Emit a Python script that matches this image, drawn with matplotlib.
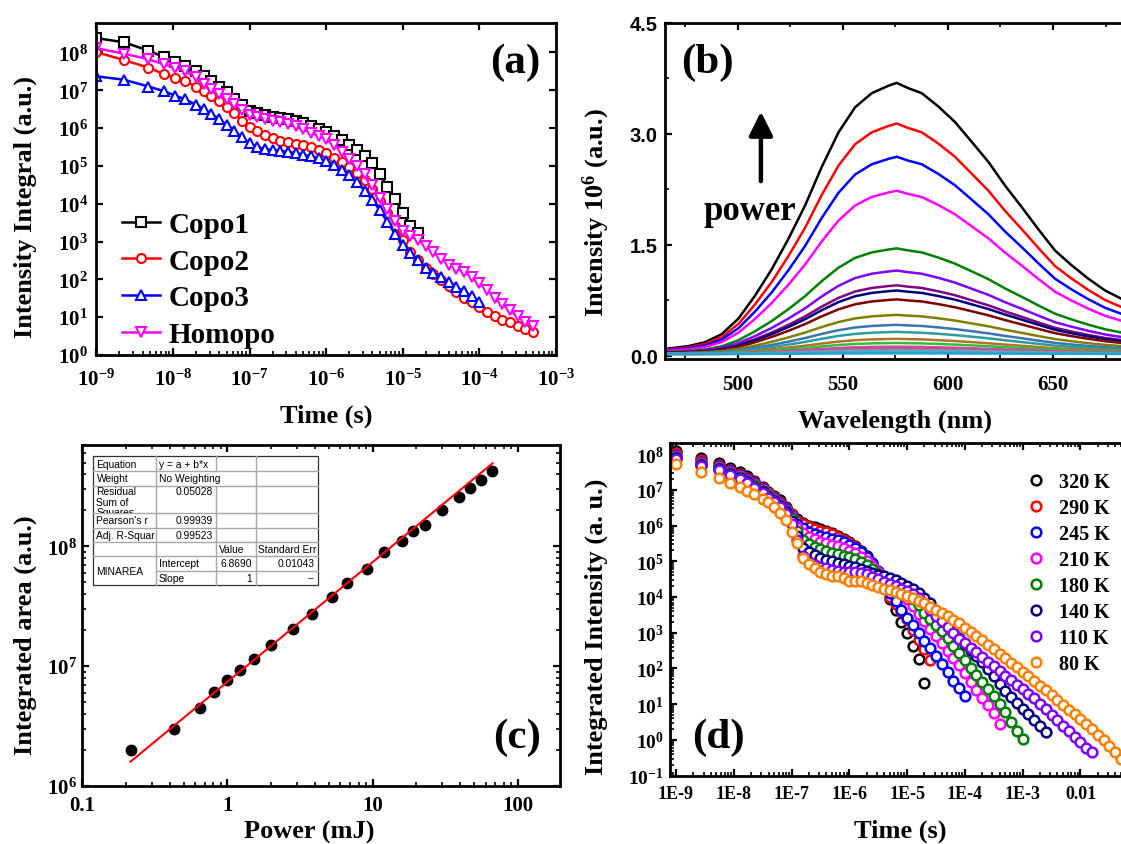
import numpy as np
import matplotlib
matplotlib.use('Agg')
import matplotlib.pyplot as plt
from matplotlib.ticker import FixedLocator, NullFormatter, NullLocator, LogLocator, FuncFormatter
from matplotlib.transforms import Bbox, TransformedBbox
from matplotlib.lines import Line2D
from matplotlib.patches import Rectangle

# ======================= DATA =======================
# ---- panel (a): log10(time / s) and log10(intensity integral)
a_log_time = [-9.0, -8.64, -8.32, -8.12, -7.97, -7.84,
              -7.7, -7.6, -7.5, -7.4, -7.3, -7.2, -7.1, -7.0,
              -6.9, -6.8, -6.7, -6.6, -6.5, -6.4, -6.3, -6.2, -6.1, -6.0,
              -5.9, -5.8, -5.7, -5.6, -5.5, -5.4, -5.3, -5.2, -5.1, -5.0,
              -4.9, -4.8, -4.7, -4.6, -4.5, -4.4, -4.3, -4.2, -4.1, -4.0,
              -3.9, -3.8, -3.7, -3.6, -3.5, -3.4, -3.3]
copo1_log = [8.38, 8.27, 8.05, 7.88, 7.76, 7.65,
             7.50, 7.38, 7.25, 7.10, 6.95, 6.78, 6.60, 6.45,
             6.39, 6.34, 6.30, 6.27, 6.23, 6.19, 6.13, 6.06, 5.98, 5.90,
             5.80, 5.68, 5.56, 5.42, 5.26, 5.08, 4.78, 4.45, 4.12, 3.75,
             3.42, 3.22]
copo2_log = [8.01, 7.80, 7.60, 7.43, 7.32, 7.24,
             7.10, 6.98, 6.85, 6.72, 6.55, 6.40, 6.20, 6.03,
             5.92, 5.83, 5.74, 5.66, 5.62, 5.59, 5.56, 5.50, 5.43, 5.35,
             5.22, 5.10, 4.97, 4.82, 4.62, 4.38, 4.08, 3.76, 3.42, 3.05,
             2.72, 2.50, 2.30, 2.14, 1.98, 1.82, 1.66, 1.52, 1.40, 1.26,
             1.15, 1.04, 0.93, 0.86, 0.78, 0.70, 0.62]
copo3_log = [7.37, 7.28, 7.10, 6.98, 6.86, 6.76,
             6.62, 6.51, 6.38, 6.24, 6.08, 5.93, 5.76, 5.60,
             5.50, 5.45, 5.42, 5.40, 5.37, 5.34, 5.30, 5.25, 5.20, 5.12,
             5.02, 4.90, 4.75, 4.57, 4.35, 4.10, 3.83, 3.52, 3.20, 2.92,
             2.70, 2.50, 2.30, 2.16, 2.05, 1.92, 1.80, 1.68, 1.55, 1.40]
homopo_log = [8.11, 7.97, 7.82, 7.69, 7.59, 7.50,
              7.34, 7.18, 7.04, 6.90, 6.76, 6.63, 6.48, 6.36,
              6.30, 6.25, 6.20, 6.16, 6.11, 6.05, 5.97, 5.88, 5.79, 5.70,
              5.56, 5.38, 5.19, 5.00, 4.78, 4.50, 4.16, 3.86, 3.55, 3.28,
              3.15, 3.04, 2.88, 2.72, 2.55, 2.38, 2.28, 2.20, 2.05, 1.90,
              1.72, 1.52, 1.34, 1.18, 1.02, 0.88, 0.78]
a_labels = ['Copo1', 'Copo2', 'Copo3', 'Homopo']

# ---- panel (b): emission spectra (top curve) and peak heights
b_wavelength = [465.5, 476.6, 484.5, 492.5, 500.4, 508.3, 516.3, 524.2, 532.1, 540.0,
                548.0, 555.9, 563.8, 571.7, 575.7, 581.0, 587.6, 595.5, 603.4, 611.4,
                619.3, 627.2, 635.1, 643.0, 651.0, 658.9, 666.8, 674.8, 682.4, 690.0]
b_top_spectrum = [0.09, 0.127, 0.18, 0.29, 0.50, 0.81, 1.17, 1.58, 2.03, 2.55,
                  3.02, 3.36, 3.55, 3.65, 3.69, 3.62, 3.55, 3.37, 3.16, 2.89,
                  2.62, 2.30, 2.01, 1.71, 1.42, 1.22, 1.04, 0.88, 0.77, 0.67]
b_baseline = 0.02
b_peak_heights = [3.69, 3.14, 2.69, 2.23, 1.45, 1.15, 0.95, 0.88, 0.76, 0.55,
                  0.415, 0.32, 0.226, 0.17, 0.12, 0.095, 0.075, 0.06, 0.045, 0.03]
b_colors = ['#000000', '#FF0000', '#0000FF', '#FF00FF', '#008000', '#8000FF', '#800080',
            '#000080', '#800000', '#808000', '#3A75B0', '#2A9D9D', '#B07030', '#30C030',
            '#E040A0', '#9060C0', '#C08060', '#60A0D0', '#40B0D0', '#20A0D8']

# ---- panel (c): integrated area vs power, linear fit of log-log data
c_power = [0.217, 0.43, 0.65, 0.81, 1.0, 1.22, 1.52, 2.0, 2.82, 3.8, 5.25,
           6.7, 9.1, 12.0, 15.8, 19.1, 22.9, 30.0, 39.0, 47.0, 56.0, 66.0]
c_area = [2.0e6, 3.0e6, 4.5e6, 6.1e6, 7.7e6, 9.3e6, 1.15e7, 1.49e7, 2.05e7, 2.74e7, 3.8e7,
          4.9e7, 6.5e7, 8.9e7, 1.1e8, 1.35e8, 1.5e8, 2.03e8, 2.6e8, 3.1e8, 3.6e8, 4.3e8]
c_fit_intercept = 6.869
c_fit_slope = 1.0
c_fit_power_range = [0.215, 67.0]
c_table_texts = [
    ('Equation', 0, 0), ('y = a + b*x', 1, 0),
    ('Weight', 0, 1), ('No Weighting', 1, 1),
    ('Residual\nSum of\nSquares', 0, 2), ('0.05028', 2, 2.1),
    ("Pearson's r", 0, 4), ('0.99939', 2, 4),
    ('Adj. R-Square', 0, 5), ('0.99523', 2, 5),
    ('Value', 3, 6), ('Standard Error', 4, 6),
    ('MINAREA', 0, 7.5), ('Intercept', 1, 7), ('6.8690', 5, 7), ('0.01043', 6, 7),
    ('Slope', 1, 8), ('1', 5, 8), ('--', 6, 8),
]

# ---- panel (d): log10(time / s) and log10(integrated intensity) per temperature
d_log_time = [-9.0, -8.56, -8.25, -8.07, -7.9, -7.77, -7.65,
              -7.5, -7.4, -7.3, -7.2, -7.1, -7.0,
              -6.9, -6.8, -6.7, -6.6, -6.5, -6.4, -6.3, -6.2, -6.1, -6.0,
              -5.9, -5.8, -5.7, -5.6, -5.5, -5.4, -5.3, -5.2, -5.1, -5.0,
              -4.9, -4.8, -4.7, -4.6, -4.5, -4.4, -4.3, -4.2, -4.1, -4.0,
              -3.9, -3.8, -3.7, -3.6, -3.5, -3.4, -3.3, -3.2, -3.1, -3.0,
              -2.9, -2.8, -2.7, -2.6, -2.5, -2.4, -2.3, -2.2, -2.1, -2.0,
              -1.9, -1.8, -1.7, -1.6, -1.5, -1.4, -1.3]
d_320K = [8.09, 7.88, 7.75, 7.60, 7.49, 7.38, 7.25,
          7.08, 6.95, 6.83, 6.70, 6.52, 6.33,
          6.18, 6.07, 6.00, 5.95, 5.90, 5.84, 5.78, 5.71, 5.63, 5.54,
          5.43, 5.30, 5.14, 4.95, 4.68, 4.30, 3.94, 3.63, 3.30, 2.98,
          2.64, 2.27, 1.59]
d_290K = [8.02, 7.82, 7.69, 7.55, 7.44, 7.33, 7.21,
          7.05, 6.92, 6.80, 6.67, 6.50, 6.31,
          6.14, 6.03, 5.96, 5.91, 5.86, 5.81, 5.75, 5.68, 5.60, 5.51,
          5.40, 5.27, 5.10, 4.90, 4.65, 4.33, 4.00, 3.80, 3.60, 3.38,
          3.09, 2.79, 2.55, 2.25]
d_245K = [7.98, 7.79, 7.66, 7.52, 7.41, 7.30, 7.18,
          7.02, 6.89, 6.77, 6.63, 6.46, 6.27,
          6.05, 5.92, 5.82, 5.76, 5.71, 5.67, 5.63, 5.59, 5.53, 5.46,
          5.37, 5.26, 5.12, 4.95, 4.74, 4.38, 4.10, 3.88, 3.63, 3.40,
          3.22, 3.00, 2.78, 2.56, 2.35, 2.12, 1.89, 1.66, 1.44, 1.22]
d_210K = [7.95, 7.76, 7.63, 7.49, 7.38, 7.27, 7.15,
          7.00, 6.87, 6.75, 6.61, 6.44, 6.24,
          5.95, 5.78, 5.68, 5.61, 5.55, 5.50, 5.46, 5.42, 5.37, 5.30,
          5.22, 5.12, 5.00, 4.86, 4.70, 4.52, 4.38, 4.25, 4.10, 3.95,
          3.75, 3.52, 3.32, 3.11, 2.91, 2.70, 2.50, 2.30, 2.10, 1.86,
          1.62, 1.40, 1.18, 0.97, 0.75, 0.45]
d_180K = [7.92, 7.73, 7.60, 7.46, 7.35, 7.24, 7.12,
          6.97, 6.84, 6.72, 6.58, 6.41, 6.20,
          5.85, 5.60, 5.49, 5.41, 5.34, 5.28, 5.23, 5.19, 5.16, 5.13,
          5.07, 4.99, 4.90, 4.78, 4.64, 4.50, 4.40, 4.30, 4.18, 4.05,
          3.95, 3.78, 3.56, 3.38, 3.22, 3.04, 2.84, 2.64, 2.44, 2.23,
          2.02, 1.82, 1.62, 1.42, 1.22, 1.00, 0.77, 0.50, 0.26, 0.02]
d_140K = [7.89, 7.70, 7.57, 7.43, 7.32, 7.21, 7.09,
          6.94, 6.81, 6.69, 6.55, 6.37, 6.12,
          5.70, 5.38, 5.26, 5.17, 5.10, 5.04, 5.00, 4.96, 4.92, 4.88,
          4.84, 4.79, 4.74, 4.68, 4.62, 4.58, 4.53, 4.47, 4.39, 4.31,
          4.22, 4.10, 3.98, 3.82, 3.62, 3.42, 3.22, 3.02, 2.84, 2.68,
          2.52, 2.36, 2.18, 1.98, 1.78, 1.56, 1.36, 1.19, 1.04, 0.88,
          0.72, 0.55, 0.39, 0.22]
d_110K = [7.86, 7.67, 7.54, 7.40, 7.29, 7.18, 7.06,
          6.91, 6.78, 6.66, 6.52, 6.32, 6.05,
          5.60, 5.15, 4.98, 4.90, 4.84, 4.80, 4.76, 4.73, 4.71, 4.70,
          4.69, 4.68, 4.63, 4.57, 4.50, 4.43, 4.37, 4.30, 4.23, 4.16,
          4.07, 3.97, 3.83, 3.65, 3.48, 3.32, 3.15, 2.98, 2.83, 2.70,
          2.57, 2.45, 2.32, 2.19, 2.06, 1.93, 1.80, 1.67, 1.54, 1.42,
          1.29, 1.16, 1.02, 0.87, 0.71, 0.55, 0.40, 0.24, 0.08, -0.07,
          -0.22, -0.35]
d_80K = [7.72, 7.49, 7.32, 7.19, 7.07, 6.97, 6.88,
         6.74, 6.65, 6.52, 6.35, 6.15, 5.82,
         5.50, 5.10, 4.92, 4.80, 4.70, 4.64, 4.60, 4.58, 4.52, 4.45,
         4.44, 4.44, 4.38, 4.33, 4.28, 4.23, 4.19, 4.14, 4.09, 4.03,
         3.96, 3.89, 3.82, 3.73, 3.65, 3.56, 3.46, 3.36, 3.26, 3.14,
         3.02, 2.91, 2.79, 2.67, 2.54, 2.41, 2.29, 2.16, 2.04, 1.91,
         1.78, 1.65, 1.52, 1.39, 1.25, 1.11, 0.98, 0.85, 0.72, 0.58,
         0.44, 0.30, 0.15, 0.00, -0.16, -0.33, -0.53]
d_labels = ['320 K', '290 K', '245 K', '210 K', '180 K', '140 K', '110 K', '80 K']
d_colors = ['#000000', '#FF0000', '#0000FF', '#FF00FF', '#008000', '#000080', '#8000FF', '#FF8000']
d_xtick_labels = ['1E-9', '1E-8', '1E-7', '1E-6', '1E-5', '1E-4', '1E-3', '0.01']

# ======================= STYLE / LAYOUT =======================
W, H = 1121, 845
plt.rcParams.update({
    'font.family': ['Liberation Serif', 'DejaVu Serif'],
    'font.weight': 'bold',
    'mathtext.fontset': 'custom',
    'mathtext.rm': 'Liberation Serif:bold',
    'mathtext.it': 'Liberation Serif:bold',
    'mathtext.bf': 'Liberation Serif:bold',
    'axes.linewidth': 2.0,
    'xtick.direction': 'in', 'ytick.direction': 'in',
    'xtick.major.width': 1.6, 'ytick.major.width': 1.6,
    'xtick.minor.width': 1.2, 'ytick.minor.width': 1.2,
    'xtick.major.size': 5, 'ytick.major.size': 5,
    'xtick.minor.size': 3, 'ytick.minor.size': 3,
})

fig = plt.figure(figsize=(W / 100, H / 100), dpi=100)


def rect(l, t, r, b):
    return [l / W, 1 - b / H, (r - l) / W, (b - t) / H]


def fx(x):
    return x / W


def fy(y):
    return 1 - y / H


def pow10(v, pos):
    return r'$10^{%d}$' % int(round(np.log10(v)))


def place_labels(ax, xtext, xc, yc, ytext, yxc, yyc, size=19):
    ax.set_xlabel(xtext, fontsize=size, fontweight='bold')
    ax.xaxis.set_label_coords(fx(xc), fy(yc), transform=fig.transFigure)
    ax.xaxis.label.set_va('center')
    ax.set_ylabel(ytext, fontsize=size, fontweight='bold')
    ax.yaxis.set_label_coords(fx(yxc), fy(yyc), transform=fig.transFigure)
    ax.yaxis.label.set_va('center')


def panel_tag(text, xc, yc):
    fig.text(fx(xc), fy(yc), text, fontsize=31, fontweight='bold', ha='center', va='center')


# ======================= (a) =======================
axa = fig.add_axes(rect(96.4, 24, 556, 356))
ta = 10.0 ** np.array(a_log_time)
for vals, col, mk, lab in zip([copo1_log, copo2_log, copo3_log, homopo_log],
                              ['black', 'red', 'blue', 'magenta'],
                              ['s', 'o', '^', 'v'], a_labels):
    n = len(vals)
    axa.plot(ta[:n], 10.0 ** np.array(vals), color=col, marker=mk, ms=6.5, mew=1.5,
             mfc='white', lw=1.8, label=lab)
axa.set_xscale('log')
axa.set_yscale('log')
axa.set_xlim(1e-9, 1e-3)
axa.set_ylim(1, 10 ** 8.78)
axa.xaxis.set_major_locator(FixedLocator([10.0 ** k for k in range(-9, -2)]))
axa.xaxis.set_major_formatter(FuncFormatter(pow10))
axa.xaxis.set_minor_locator(LogLocator(base=10, subs=np.arange(2, 10), numticks=20))
axa.xaxis.set_minor_formatter(NullFormatter())
axa.yaxis.set_major_locator(FixedLocator([10.0 ** k for k in range(0, 9)]))
axa.yaxis.set_major_formatter(FuncFormatter(pow10))
axa.yaxis.set_minor_locator(NullLocator())
axa.tick_params(axis='x', which='major', labelsize=15, pad=10, top=True)
axa.tick_params(axis='x', which='minor', top=False)
axa.tick_params(axis='y', labelsize=15, pad=6, right=True)
place_labels(axa, 'Time (s)', 326, 416, 'Intensity Integral (a.u.)', 25, 207)
axa.legend(loc='upper left', bbox_to_anchor=(fx(122), fy(212)), bbox_transform=fig.transFigure,
           frameon=False, fontsize=21, handlelength=1.3, handletextpad=0.3,
           labelspacing=0.33, borderpad=0, borderaxespad=0, numpoints=1)
panel_tag('(a)', 515, 63)

# ======================= (b) =======================
axb = fig.add_axes(rect(664.6, 24, 1131, 360))
wl = np.array(b_wavelength)
top = np.array(b_top_spectrum)
shape = (top - b_baseline) / (top.max() - b_baseline)
for pk, col in zip(b_peak_heights, b_colors):
    axb.plot(wl, b_baseline + (pk - b_baseline) * shape, color=col, lw=1.8)
axb.set_xlim(465.3, 687.1)
axb.set_ylim(-0.047, 4.5)
axb.set_xticks([500, 550, 600, 650], labels=['500', '550', '600', '650'], fontsize=15)
axb.set_xticks([475, 525, 575, 625, 675], minor=True)
axb.set_yticks([0, 1.5, 3.0, 4.5], labels=['0.0', '1.5', '3.0', '4.5'],
               fontsize=14.5, fontfamily='Liberation Sans', fontweight='bold')
axb.set_yticks([0.75, 2.25, 3.75], minor=True)
axb.tick_params(axis='x', which='both', top=True, pad=11)
axb.tick_params(axis='y', which='both', right=False, pad=5)
place_labels(axb, 'Wavelength (nm)', 895.5, 421, r'Intensity 10$^{6}$ (a.u.)', 596.5, 212.5)
axb.annotate('', xy=(511.1, 3.30), xytext=(511.1, 2.36),
             arrowprops=dict(arrowstyle='-|>,head_width=0.45,head_length=0.9', lw=3.2,
                             color='black', mutation_scale=16, shrinkA=0, shrinkB=0))
axb.text(505.7, 1.85, 'power', fontsize=25, fontweight='bold', ha='center', va='baseline')
panel_tag('(b)', 707.5, 63)

# ======================= (c) =======================
axc = fig.add_axes(rect(82.3, 445.7, 560, 786.7))
axc.plot(c_power, c_area, 'o', color='black', ms=7.5, zorder=2)
fx_line = np.array(c_fit_power_range)
axc.plot(fx_line, 10.0 ** (c_fit_intercept + c_fit_slope * np.log10(fx_line)), color='red',
         lw=1.5, zorder=3)
axc.set_xscale('log')
axc.set_yscale('log')
axc.set_xlim(0.1, 195)
axc.set_ylim(1e6, 10 ** 8.85)
axc.set_xticks([0.1, 1, 10, 100], labels=['0.1', '1', '10', '100'], fontsize=15)
axc.xaxis.set_minor_locator(LogLocator(base=10, subs=np.arange(2, 10), numticks=20))
axc.xaxis.set_minor_formatter(NullFormatter())
axc.yaxis.set_major_locator(FixedLocator([1e6, 1e7, 1e8]))
axc.yaxis.set_major_formatter(FuncFormatter(pow10))
axc.yaxis.set_minor_locator(LogLocator(base=10, subs=np.arange(2, 10), numticks=20))
axc.yaxis.set_minor_formatter(NullFormatter())
axc.tick_params(axis='x', which='both', top=True, labelsize=15, pad=7)
axc.tick_params(axis='y', which='both', right=True, labelsize=15, pad=4)
place_labels(axc, 'Power (mJ)', 309, 832, 'Integrated area (a.u.)', 25, 635)
panel_tag('(c)', 517, 738)

# fit-report table drawn on the figure
col_x = [93.3, 155.7, 215.7, 255.7, 317.7]
row_y = [457.3, 472.3, 486.7, 514.3, 529.0, 543.3, 557.3, 571.7, 586.0]
fig.add_artist(Rectangle((fx(col_x[0]), fy(row_y[-1])), fx(col_x[-1]) - fx(col_x[0]),
                         fy(row_y[0]) - fy(row_y[-1]), transform=fig.transFigure,
                         facecolor='white', edgecolor='#303030', lw=0.9, zorder=5))
gcol = '#A8A8A8'
for i, yy in enumerate(row_y[1:-1], start=1):
    x0 = col_x[1] if i == 7 else col_x[0]
    fig.add_artist(Line2D([fx(x0), fx(col_x[-1])], [fy(yy), fy(yy)], transform=fig.transFigure,
                          color=gcol, lw=1.0, zorder=6))
for j, xx in enumerate(col_x[1:-1], start=1):
    segs = [(row_y[0], row_y[-1])]
    if j == 2:
        segs = [(row_y[0], row_y[1]), (row_y[2], row_y[-1])]
    for (ya, yb) in segs:
        fig.add_artist(Line2D([fx(xx), fx(xx)], [fy(ya), fy(yb)], transform=fig.transFigure,
                              color=gcol, lw=1.0, zorder=6))
slot_x = {0: (96.5, 'left'), 1: (159.0, 'left'), 2: (212.5, 'right'), 3: (219.0, 'left'),
          4: (258.5, 'left'), 5: (252.0, 'right'), 6: (314.5, 'right')}
row_centers = {0: 464.8, 1: 479.5, 4: 521.4, 5: 535.9, 6: 550.0, 7: 564.2, 8: 578.6, 7.5: 571.7}
for text, slot, rowpos in c_table_texts:
    xx, ha = slot_x[slot]
    if rowpos in (2, 2.1):
        t = fig.text(fx(xx), fy(487.4), text, fontsize=7.4, fontweight='normal',
                     family=['Liberation Sans', 'DejaVu Sans'], ha=ha, va='top',
                     linespacing=1.02, zorder=7)
    else:
        t = fig.text(fx(xx), fy(row_centers[rowpos]), text, fontsize=7.4, fontweight='normal',
                     family=['Liberation Sans', 'DejaVu Sans'], ha=ha, va='center', zorder=7)
    if slot == 0:
        cx0, cx1 = col_x[0], col_x[1]
    elif slot == 1:
        cx0, cx1 = col_x[1], (col_x[3] if text == 'No Weighting' else col_x[2])
    elif slot == 2:
        cx0, cx1 = col_x[1], col_x[2]
    elif slot in (3, 5):
        cx0, cx1 = col_x[2], col_x[3]
    else:
        cx0, cx1 = col_x[3], col_x[4]
    if rowpos in (2, 2.1):
        cy0, cy1 = row_y[2], row_y[3]
    else:
        cy0, cy1 = row_y[0], row_y[-1]
    bb = Bbox.from_extents(fx(cx0), fy(cy1), fx(cx1 - 1), fy(cy0))
    t.set_clip_box(TransformedBbox(bb, fig.transFigure))
    t.set_clip_on(True)

# ======================= (d) =======================
axd = fig.add_axes(rect(669.6, 444.3, 1131, 776.7))
td = 10.0 ** np.array(d_log_time)
handles = []
for vals, col, lab in zip([d_320K, d_290K, d_245K, d_210K, d_180K, d_140K, d_110K, d_80K],
                          d_colors, d_labels):
    n = len(vals)
    axd.plot(td[:n], 10.0 ** np.array(vals), ls='none', marker='o', ms=7, mew=1.8,
             mec=col, mfc='white')
    handles.append(Line2D([], [], ls='none', marker='o', ms=7, mew=1.8, mec=col,
                          mfc='white', label=lab))
axd.set_xscale('log')
axd.set_yscale('log')
axd.set_xlim(10 ** -9.11, 10 ** -1.125)
axd.set_ylim(0.1, 10 ** 8.3)
axd.set_xticks([10.0 ** k for k in range(-9, -1)], labels=d_xtick_labels, fontsize=13)
axd.xaxis.set_minor_locator(LogLocator(base=10, subs=np.arange(2, 10), numticks=20))
axd.xaxis.set_minor_formatter(NullFormatter())
axd.yaxis.set_major_locator(FixedLocator([10.0 ** k for k in range(-1, 9)]))
axd.yaxis.set_major_formatter(FuncFormatter(pow10))
axd.yaxis.set_minor_locator(LogLocator(base=10, subs=np.arange(2, 10), numticks=20))
axd.yaxis.set_minor_formatter(NullFormatter())
axd.tick_params(axis='x', which='both', top=True, pad=7)
axd.tick_params(axis='y', which='both', right=False, labelsize=14, pad=4)
place_labels(axd, 'Time (s)', 900, 831, 'Integrated Intensity (a. u.)', 596.6, 626.5)
axd.legend(handles=handles, loc='upper left', bbox_to_anchor=(fx(1026), fy(473)),
           bbox_transform=fig.transFigure, frameon=False, fontsize=14.5, handlelength=1.0,
           handletextpad=0.65, labelspacing=0.3, borderpad=0, borderaxespad=0, numpoints=1)
panel_tag('(d)', 718, 738)

fig.savefig('out.png', dpi=100)
